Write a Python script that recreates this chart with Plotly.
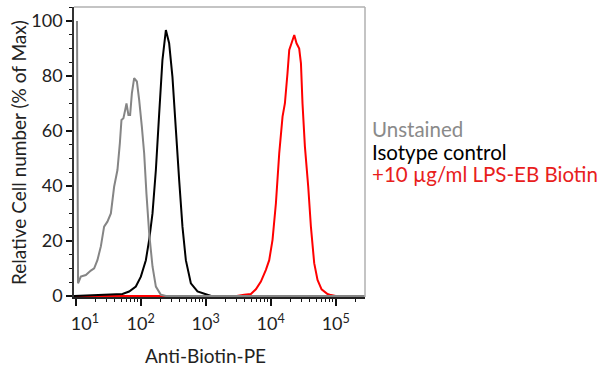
import plotly.graph_objects as go

# Unstained (gray)
unstained_x = [10.5, 10.9, 12.02, 14.35, 17.14, 19.28, 21.63, 24.43, 27.42, 30.83, 34.83,
               39.08, 43.95, 47.86, 50.70, 54.33, 57.81, 60.53, 64.86, 68.87, 73.28, 79.43,
               87.50, 94.84, 104.3, 113.2, 122.7, 135.2, 152.1, 171.4, 204.6, 244.3, 290000]
unstained_y = [100, 4.6, 7, 7.6, 9.2, 10, 13, 18, 25.2, 27, 30,
               39.7, 45.8, 55.5, 64, 64.6, 67.6, 70, 65.8, 65.8, 73.7, 79.2,
               78, 71.3, 61.6, 51.9, 37.3, 22.8, 10.7, 3.4, 0.4, 0, 0]

# Isotype control (black)
isotype_x = [9.4, 52.48, 66.53, 84.33, 100.7, 120.2, 135.2, 152.1, 171.4, 192.8, 216.3, 244.3,
             274.2, 308.3, 348.3, 390.8, 439.5, 495.5, 591.6, 748.2, 1007, 1216]
isotype_y = [0, 0.7, 1.6, 3.4, 7, 13, 20.4, 30, 45.8, 66.4, 85.8, 96.7,
             91.9, 79.7, 60.4, 42.2, 25.2, 13, 4.6, 1.6, 0.6, 0]

# +10 ug/ml LPS-EB Biotin (red)
lps_x = [9.4, 3000, 3908, 4955, 5916, 7063, 8433, 9484, 10666, 12023, 13521, 15205, 16520,
         18113, 19275, 20893, 23014, 24946, 27416, 29174, 30832, 33574, 37757,
         41495, 46666, 52481, 60534, 74817, 84333, 100000, 290000]
lps_y = [0, 0, 0.4, 0.7, 2.4, 5.2, 9.5, 13, 20.4, 33.7, 51.9, 65.2, 70,
         81, 89.5, 91.9, 94.9, 91.9, 90, 84.6, 70, 54.3, 39.7,
         25.2, 11.9, 5.8, 2.4, 0.7, 0.3, 0, 0]

series_names = ["Unstained", "Isotype control", "+10 µg/ml LPS-EB Biotin"]
series_colors = ["#858585", "#000000", "#ff0000"]
legend_colors = ["#8a8a8a", "#000000", "#e8201c"]

x_tick_vals = [10, 100, 1000, 10000, 100000]
x_tick_text = ["&nbsp;&nbsp;&nbsp;&nbsp;10<sup>1</sup>", "10<sup>2</sup>", "10<sup>3</sup>",
               "10<sup>4</sup>", "10<sup>5</sup>"]
y_tick_vals = [0, 20, 40, 60, 80, 100]

W, H = 600, 368
L, R, T, B = 74, 235, 7, 71
PW, PH = W - L - R, H - T - B

FONT = "Lato"

fig = go.Figure()
fig.add_trace(go.Scatter(x=lps_x, y=lps_y, mode="lines", name=series_names[2],
                         line=dict(color=series_colors[2], width=2, simplify=False)))
fig.add_trace(go.Scatter(x=isotype_x, y=isotype_y, mode="lines", name=series_names[1],
                         line=dict(color=series_colors[1], width=2, simplify=False)))
fig.add_trace(go.Scatter(x=unstained_x, y=unstained_y, mode="lines", name=series_names[0],
                         line=dict(color=series_colors[0], width=2, simplify=False)))

fig.update_layout(
    width=W, height=H,
    margin=dict(l=L, r=R, t=T, b=B),
    paper_bgcolor="white", plot_bgcolor="white",
    showlegend=False,
    font=dict(family=FONT, size=18, color="#222"),
    xaxis=dict(
        type="log", range=[0.975, 5.45],
        tickvals=x_tick_vals, ticktext=x_tick_text,
        ticks="outside", ticklen=7, tickwidth=1.5, tickcolor="#111",
        ticklabelstandoff=3,
        minor=dict(ticks="outside", ticklen=3, tickwidth=1, tickcolor="#111",
                   dtick="D1", showgrid=False),
        showline=True, linecolor="#222", linewidth=1.5,
        showgrid=False, zeroline=False,
        tickfont=dict(family=FONT, size=18, color="#222"),
    ),
    yaxis=dict(
        range=[-0.4, 105.1],
        tickvals=y_tick_vals,
        ticks="outside", ticklen=6, tickwidth=1.5, tickcolor="#111",
        minor=dict(ticks="outside", ticklen=3, tickwidth=1, tickcolor="#111",
                   dtick=5, showgrid=False),
        showline=True, linecolor="#333", linewidth=1.5,
        showgrid=False, zeroline=False,
        tickfont=dict(family=FONT, size=18, color="#222"),
    ),
    shapes=[
        dict(type="line", xref="paper", yref="paper", x0=0, x1=1, y0=1, y1=1,
             line=dict(color="#b0b0b0", width=1.5)),
        dict(type="line", xref="paper", yref="paper", x0=1, x1=1, y0=0, y1=1,
             line=dict(color="#b0b0b0", width=1.5)),
    ],
)

annotations = [
    dict(text="Anti-Biotin-PE", xref="paper", yref="paper",
         x=(205 - L) / PW, y=(T + PH - 355) / PH, xanchor="center", yanchor="middle",
         showarrow=False, font=dict(family=FONT, size=19, color="#222")),
    dict(text="Relative Cell number (% of Max)", xref="paper", yref="paper",
         x=(18 - L) / PW, y=(T + PH - 153) / PH, xanchor="center", yanchor="middle",
         textangle=-90, showarrow=False, font=dict(family=FONT, size=19, color="#222")),
]
legend_y_px = [129, 152, 174]
for name, col, ypx in zip(series_names, legend_colors, legend_y_px):
    annotations.append(dict(text=name, xref="paper", yref="paper",
                            x=(370 - L) / PW, y=(T + PH - ypx) / PH,
                            xanchor="left", yanchor="middle", showarrow=False,
                            font=dict(family=FONT, size=20.5, color=col)))
fig.update_layout(annotations=annotations)

fig.write_html("out.html", config={"displayModeBar": False},
               post_script="document.body.style.margin='0';")
